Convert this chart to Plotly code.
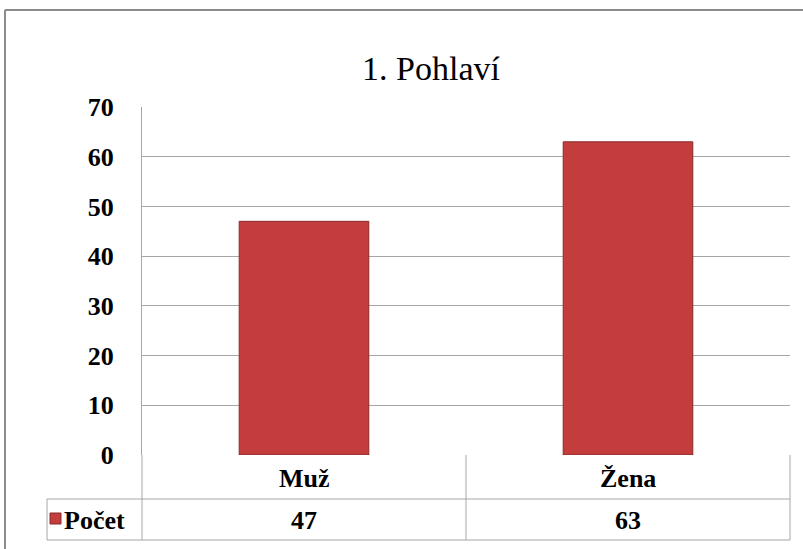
import plotly.graph_objects as go

categories = ["Muž", "Žena"]
values = [47, 63]
series_name = "Počet"
title_text = "1. Pohlaví"
y_ticks = [0, 10, 20, 30, 40, 50, 60, 70]

W, H = 803, 549
L, R, T, B = 142, 13, 107, 94
PW = W - L - R
PH = H - T - B

def px(xp):
    return (xp - L) / PW

def py(yp):
    return (H - B - yp) / PH

FONT = "Liberation Serif"
GRID = "#a6a6a6"
BAR = "#c23d3c"

fig = go.Figure()
fig.add_trace(go.Bar(
    x=categories, y=values, name=series_name, width=0.4,
    marker=dict(color=BAR, line=dict(color="#8a2a2a", width=1)),
    hoverinfo="x+y",
))

shapes = []
def line(x0, y0, x1, y1, color=GRID, w=1):
    shapes.append(dict(type="line", xref="paper", yref="paper",
                       x0=px(x0), y0=py(y0), x1=px(x1), y1=py(y1),
                       line=dict(color=color, width=w)))

# outer frame (cut at right and bottom)
line(5, 10, 803, 10, color="#8c8c8c", w=2)
line(5, 10, 5, 549, color="#8c8c8c", w=2)

# data table lines
line(142, 455, 142, 540)
line(466, 455, 466, 540)
line(790, 455, 790, 540)
line(47, 499, 790, 499)
line(47, 540, 790, 540)
line(47, 499, 47, 540)

# legend key
shapes.append(dict(type="rect", xref="paper", yref="paper",
                   x0=px(50), x1=px(61), y0=py(524), y1=py(513),
                   fillcolor=BAR, line=dict(color="#8a2a2a", width=1)))

bold = dict(family=FONT, size=26, color="black", weight="bold")
annotations = []
for c, v in zip(categories, values):
    annotations.append(dict(x=c, xref="x", y=py(478), yref="paper",
                            text=c, showarrow=False, font=bold,
                            xanchor="center", yanchor="middle"))
    annotations.append(dict(x=c, xref="x", y=py(520), yref="paper",
                            text=str(v), showarrow=False, font=bold,
                            xanchor="center", yanchor="middle"))
annotations.append(dict(x=px(62), xref="paper", y=py(520), yref="paper",
                        text=series_name, showarrow=False, font=bold,
                        xanchor="left", yanchor="middle"))

fig.update_layout(
    width=W, height=H,
    font=dict(family=FONT, color="black"),
    margin=dict(l=L, r=R, t=T, b=B, pad=0),
    paper_bgcolor="white", plot_bgcolor="white",
    showlegend=False,
    title=dict(text=title_text, x=431 / W, xanchor="center",
               y=1 - 68 / H, yanchor="middle",
               font=dict(family=FONT, size=34, color="black", weight="normal")),
    xaxis=dict(type="category", range=[-0.5, 1.5], showticklabels=False,
               showgrid=False, zeroline=False, showline=False, ticks=""),
    yaxis=dict(range=[0, 70], tickvals=y_ticks, showgrid=True,
               gridcolor=GRID, gridwidth=1, zeroline=False,
               showline=True, linecolor=GRID, linewidth=1, ticks="",
               ticklabelstandoff=22,
               tickfont=dict(family=FONT, size=26, color="black", weight="bold")),
    shapes=shapes,
    annotations=annotations,
)

fig.write_html("out.html", config={"displayModeBar": False},
               post_script="document.body.style.margin='0';")
